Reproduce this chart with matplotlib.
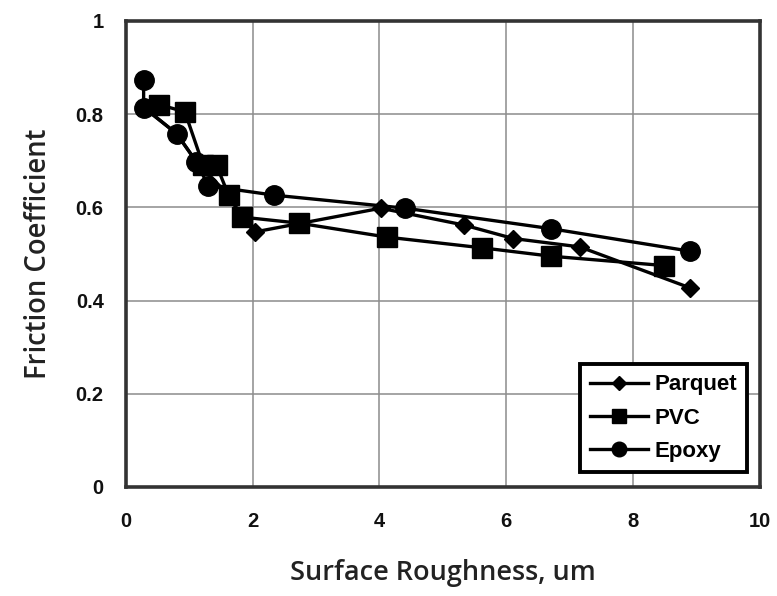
import matplotlib.pyplot as plt

# friction coefficient vs surface roughness for three floor finishes
parquet_x = [0.28, 0.80, 1.11, 1.62, 1.83, 2.03, 4.02, 5.33, 6.11, 7.16, 8.90]
parquet_y = [0.815, 0.758, 0.698, 0.626, 0.579, 0.547, 0.598, 0.562, 0.533, 0.515, 0.427]

pvc_x = [0.53, 0.93, 1.22, 1.43, 1.62, 1.83, 2.73, 4.12, 5.62, 6.71, 8.49]
pvc_y = [0.820, 0.805, 0.690, 0.690, 0.626, 0.579, 0.566, 0.536, 0.513, 0.495, 0.475]

epoxy_x = [0.28, 0.28, 0.80, 1.11, 1.30, 2.34, 4.41, 6.71, 8.89]
epoxy_y = [0.874, 0.814, 0.758, 0.698, 0.646, 0.626, 0.598, 0.554, 0.506]

x_ticks = [0, 2, 4, 6, 8, 10]
y_ticks = [0, 0.2, 0.4, 0.6, 0.8, 1]
y_tick_labels = ["0", "0.2", "0.4", "0.6", "0.8", "1"]

fig = plt.figure(figsize=(7.77, 5.96), dpi=100)
ax = fig.add_axes([0.162, 0.183, 0.816, 0.782])

ax.plot(parquet_x, parquet_y, color="black", lw=2.4, marker="D", ms=9, label="Parquet")
ax.plot(pvc_x, pvc_y, color="black", lw=2.4, marker="s", ms=14, label="PVC")
ax.plot(epoxy_x, epoxy_y, color="black", lw=2.4, marker="o", ms=14, label="Epoxy")

ax.set_xlim(0, 10)
ax.set_ylim(0, 1)
ax.set_xticks(x_ticks)
ax.set_yticks(y_ticks)
ax.set_yticklabels(y_tick_labels)
ax.grid(True, color="#8c8c8c", lw=1.1)
ax.set_axisbelow(True)
ax.tick_params(length=0, labelsize=14.5)
ax.tick_params(axis="x", pad=18)
ax.tick_params(axis="y", pad=16)
for lab in ax.get_xticklabels() + ax.get_yticklabels():
    lab.set_fontfamily("Liberation Sans")
    lab.set_fontweight("bold")
    lab.set_color("#111111")
for sp in ax.spines.values():
    sp.set_linewidth(2.6)
    sp.set_color("#333333")

ax.set_xlabel("Surface Roughness, um", fontsize=19.5, family="Open Sans",
              fontweight="semibold", color="#222222", labelpad=20)
ax.set_ylabel("Friction Coefficient", fontsize=19.8, family="Open Sans",
              fontweight="semibold", color="#222222", labelpad=16)

leg = ax.legend(loc="lower right", bbox_to_anchor=(0.99, 0.018), fancybox=False,
                edgecolor="black", framealpha=1, markerscale=0.75,
                handlelength=2.6, handletextpad=0.3, labelspacing=0.55,
                borderpad=0.45, borderaxespad=0.3,
                prop={"family": "Liberation Sans", "weight": "bold", "size": 16})
leg.get_frame().set_linewidth(2.8)

fig.savefig("out.png", dpi=100)
